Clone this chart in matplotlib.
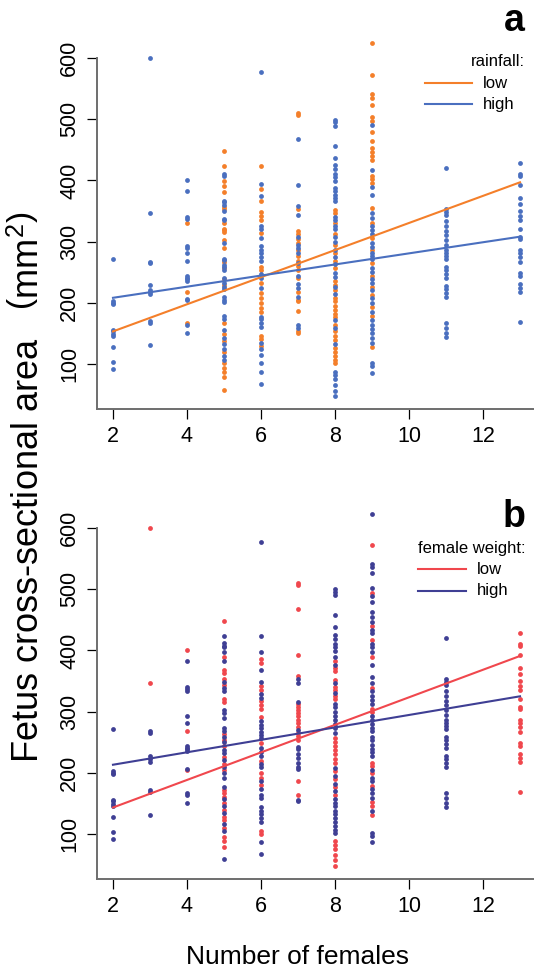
import matplotlib
matplotlib.use("Agg")
import matplotlib.pyplot as plt
from matplotlib.lines import Line2D

plt.rcParams['font.family'] = ['Liberation Sans', 'DejaVu Sans']
plt.rcParams['mathtext.fontset'] = 'custom'
plt.rcParams['mathtext.rm'] = 'Liberation Sans'
plt.rcParams['mathtext.it'] = 'Liberation Sans:italic'

# ---- data: fetus area (mm^2) per number of females ----
# panel a, split by rainfall
rain_low = {
    4: [331, 217, 167],
    5: [448, 423, 399, 391, 381, 357, 354, 331, 321, 319, 316, 302, 290, 266, 256, 238, 229,
        167, 149, 137, 120, 101, 93, 86, 79, 57],
    6: [423, 386, 366, 348, 342, 336, 314, 259, 254, 232, 216, 208, 200, 192, 184, 145, 140, 129],
    7: [511, 507, 354, 317, 313, 304, 298, 286, 276, 269, 260, 254, 240, 218, 205, 202, 186, 154, 151],
    8: [352, 347, 331, 313, 294, 281, 269, 256, 235, 229, 220, 208, 202, 195, 188, 181, 176, 164,
        154, 146, 139, 126, 120, 113, 107, 101],
    9: [625, 573, 541, 535, 524, 504, 497, 480, 464, 453, 447, 440, 433, 408, 403, 396, 355, 331,
        306, 287, 265, 244, 226, 212, 193, 178, 127],
}
rain_high = {
    2: [272, 203, 200, 198, 156, 153, 149, 145, 127, 103, 91],
    3: [601, 346, 267, 265, 229, 220, 217, 214, 170, 167, 130],
    4: [401, 383, 340, 337, 292, 290, 281, 268, 243, 240, 238, 235, 206, 204, 164, 151],
    5: [411, 407, 366, 364, 360, 350, 337, 335, 298, 272, 270, 262, 259, 253, 240, 232, 225, 222,
        210, 204, 201, 178, 173, 156, 143, 132, 125, 112, 107],
    6: [577, 395, 374, 325, 320, 306, 292, 287, 281, 274, 269, 247, 240, 224, 176, 173, 167, 161,
        134, 124, 115, 101, 87, 67],
    7: [468, 392, 358, 344, 308, 294, 290, 281, 265, 244, 231, 224, 210, 164, 159],
    8: [499, 495, 489, 456, 437, 425, 419, 410, 405, 399, 388, 383, 377, 372, 366, 341, 335, 325,
        320, 308, 299, 287, 274, 263, 249, 242, 226, 214, 171, 159, 133, 87, 82, 75, 66, 56, 47],
    9: [491, 417, 390, 377, 346, 338, 325, 319, 313, 298, 291, 281, 276, 271, 257, 251, 238, 232,
        221, 207, 200, 185, 171, 164, 157, 150, 143, 134, 101, 96, 85],
    11: [421, 354, 349, 343, 333, 325, 318, 311, 303, 294, 287, 281, 276, 271, 259, 254, 247, 240,
         228, 223, 216, 210, 167, 158, 151, 144],
    13: [429, 411, 407, 393, 372, 361, 350, 342, 335, 321, 308, 304, 286, 281, 274, 267, 249, 244,
         230, 224, 218, 169],
}

# panel b, split by female weight
weight_low = {
    3: [600, 346],
    4: [401, 268, 204],
    5: [448, 390, 368, 363, 354, 343, 320, 315, 264, 254, 243, 226, 215, 205, 171, 166, 161, 151,
        139, 128, 122, 109, 95, 88, 79],
    6: [386, 380, 342, 335, 317, 311, 305, 291, 248, 219, 200, 192, 180, 105, 100],
    7: [510, 507, 468, 392, 358, 313, 307, 302, 297, 293, 287, 281, 275, 265, 260, 254, 187, 163],
    8: [382, 372, 366, 352, 340, 335, 325, 320, 257, 250, 243, 237, 230, 223, 216, 202, 189, 177,
        164, 88, 82, 75, 66, 57, 48],
    9: [573, 494, 440, 417, 390, 339, 305, 300, 216, 211, 199, 179, 152, 145, 130],
    13: [429, 411, 407, 393, 372, 361, 350, 342, 335, 321, 308, 304, 286, 281, 274, 267, 249, 244,
         230, 224, 218, 169],
}
weight_high = {
    2: [272, 203, 200, 198, 156, 153, 149, 145, 127, 103, 91],
    3: [268, 265, 228, 222, 218, 172, 168, 130],
    4: [383, 340, 337, 333, 292, 281, 243, 240, 238, 235, 206, 167, 164, 151],
    5: [424, 412, 408, 405, 397, 382, 349, 338, 333, 303, 297, 289, 273, 269, 258, 250, 237, 232,
        221, 210, 199, 191, 177, 157, 146, 134, 116, 104, 59],
    6: [577, 424, 397, 368, 349, 328, 323, 285, 278, 273, 267, 262, 256, 241, 234, 227, 214, 209,
        186, 173, 164, 159, 144, 138, 133, 126, 119, 87, 67],
    7: [354, 346, 316, 270, 242, 238, 231, 224, 216, 210, 206, 156, 153],
    8: [500, 495, 490, 458, 439, 426, 419, 411, 406, 399, 390, 377, 346, 331, 313, 307, 300, 293,
        287, 280, 273, 265, 208, 195, 182, 170, 157, 151, 145, 137, 132, 126, 119, 113, 107, 102],
    9: [624, 542, 536, 527, 503, 489, 480, 463, 454, 447, 434, 428, 410, 405, 397, 377, 356, 346,
        333, 326, 319, 313, 293, 287, 280, 273, 268, 259, 253, 246, 239, 234, 227, 204, 192, 186,
        173, 166, 159, 137, 102, 97, 86],
    11: [421, 354, 349, 343, 333, 325, 318, 311, 303, 294, 287, 281, 276, 271, 259, 254, 247, 240,
         228, 223, 216, 210, 167, 158, 151, 144],
}

# fitted lines, value at 2 and 13 females
line_x = [2, 13]
rain_low_line = [153, 397]
rain_high_line = [208, 308]
weight_low_line = [143, 391]
weight_high_line = [213, 325]

ORANGE, BLUE = '#F47F2A', '#4A6FBF'
RED, NAVY = '#F0474D', '#3F3F94'

W, H = 534, 969
fig = plt.figure(figsize=(W / 100, H / 100), dpi=100)


def fx(px):
    return px / W


def fy(py):
    return 1 - py / H


def flatten(groups):
    xs, ys = [], []
    for k, vals in groups.items():
        xs += [k] * len(vals)
        ys += vals
    return xs, ys


def panel(bottom_px, first, second, c1, c2, l1, l2):
    ax = fig.add_axes([fx(96.7), fy(bottom_px), 439.6 / W, 377 / H])
    for grp, col in [(first, c1), (second, c2)]:
        xs, ys = flatten(grp)
        ax.scatter(xs, ys, s=12, color=col, linewidths=0, zorder=2)
    ax.plot(line_x, l1, color=c1, lw=1.5, zorder=3)
    ax.plot(line_x, l2, color=c2, lw=1.5, zorder=3)
    ax.set_xlim(1.56, 13.44)
    ax.set_ylim(26, 643)
    ax.spines[['top', 'right']].set_visible(False)
    for s in ['left', 'bottom']:
        ax.spines[s].set_color('#6e6e6e')
        ax.spines[s].set_linewidth(1.4)
    ax.spines['left'].set_bounds(26, 600)
    ax.set_xticks(range(2, 13, 2))
    ax.set_yticks(range(100, 601, 100))
    ax.tick_params(length=7, width=0.9, color='black', labelsize=15.5, pad=5)
    ax.tick_params(axis='y', labelrotation=90)
    for t in ax.get_yticklabels():
        t.set_va('center')
    return ax


ax_a = panel(409, rain_low, rain_high, ORANGE, BLUE, rain_low_line, rain_high_line)
ax_b = panel(879, weight_low, weight_high, RED, NAVY, weight_low_line, weight_high_line)


def legend(title, title_y, x0, x1, y_low, y_high, c_low, c_high):
    fig.text(fx(525), fy(title_y), title, ha='right', va='center', fontsize=12)
    for yy, col, lab in [(y_low, c_low, 'low'), (y_high, c_high, 'high')]:
        fig.add_artist(Line2D([fx(x0), fx(x1)], [fy(yy), fy(yy)], color=col, lw=1.5,
                              transform=fig.transFigure))
        fig.text(fx(x1 + 11), fy(yy), lab, ha='left', va='center', fontsize=12)


legend('rainfall:', 62, 425, 472, 83, 104, ORANGE, BLUE)
legend('female weight:', 548, 418, 466, 569, 591, RED, NAVY)

fig.text(fx(525), fy(31), 'a', ha='right', va='baseline', fontsize=27, weight='bold')
fig.text(fx(525), fy(527), 'b', ha='right', va='baseline', fontsize=27, weight='bold')

fig.text(fx(29), fy(487), r'Fetus cross-sectional area   $\left(\mathrm{mm}^{2}\right)$',
         rotation=90, ha='center', va='center', fontsize=26)
fig.text(fx(298), fy(957), 'Number of females', ha='center', va='center', fontsize=19)

fig.savefig('out.png', dpi=100)
